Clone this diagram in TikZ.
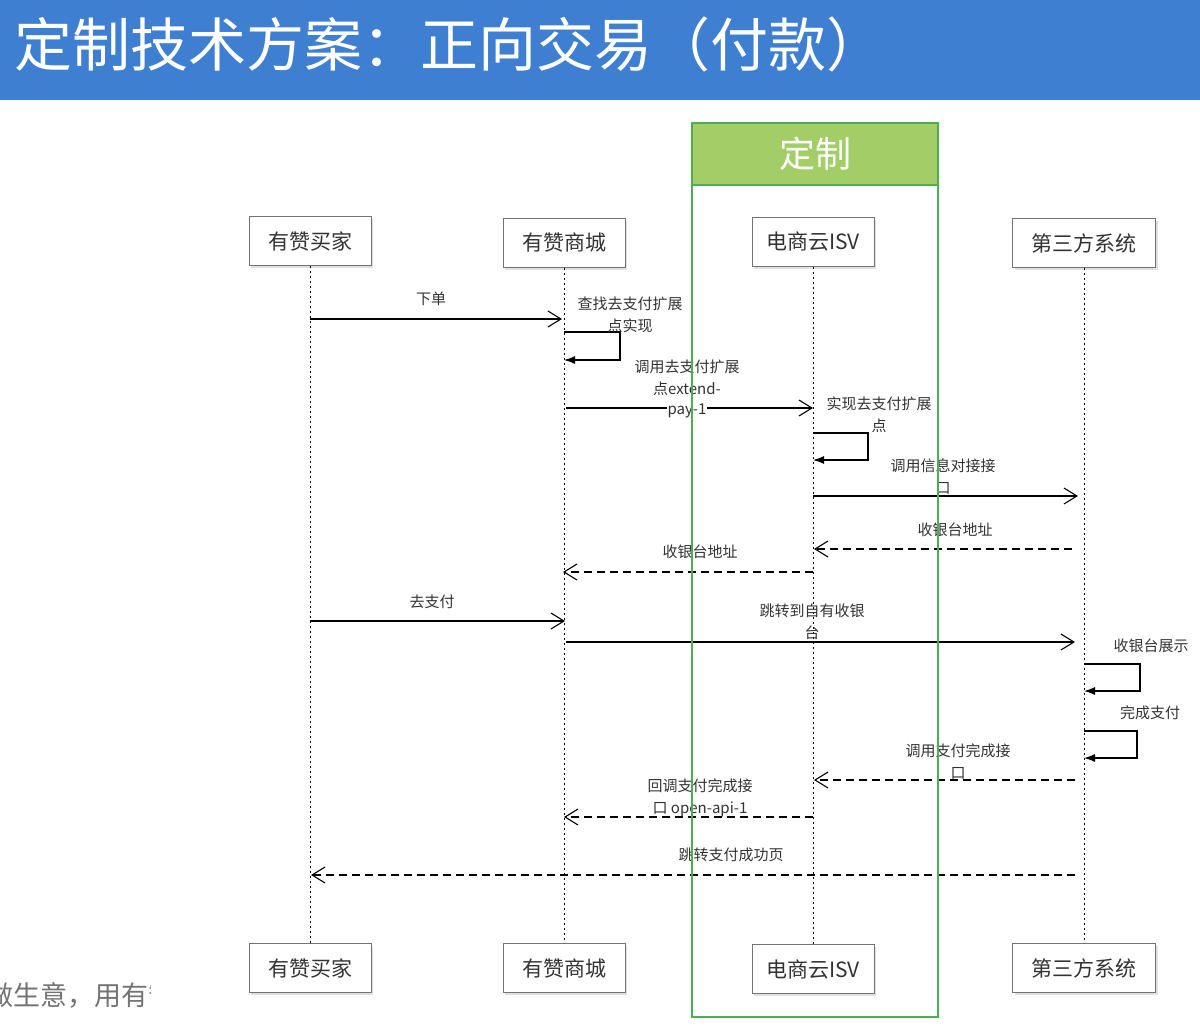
\documentclass[tikz,border=0pt]{standalone}
\usepackage{fontspec}
\setmainfont{Noto Sans CJK SC}
\usepackage{xcolor}
\usetikzlibrary{arrows.meta,shadows}

\definecolor{titleblue}{HTML}{3F7FD2}
\definecolor{framegreen}{HTML}{4CAF50}
\definecolor{headgreen}{HTML}{A3CD66}
\definecolor{inkgray}{HTML}{333333}

\tikzset{
  actor/.style={draw=black!55, fill=white, line width=1pt, minimum width=122pt,
    minimum height=49pt, inner sep=0pt, text=inkgray, font=\fontsize{21}{24}\selectfont,
    drop shadow={shadow xshift=2pt, shadow yshift=-2pt, fill=black!12, opacity=1}},
  lifeline/.style={line width=1pt, dash pattern=on 1.5pt off 3.5pt},
  msg/.style={line width=1.1pt, -{Straight Barb[length=13pt,width=16pt,line width=1.1pt]}},
  reply/.style={msg, dash pattern=on 8pt off 5pt},
  self/.style={line width=1.1pt, -{Latex[length=11pt,width=8pt]}},
  lbl/.style={text=inkgray, font=\fontsize{15}{22}\selectfont, align=center, inner sep=0pt},
  lblbg/.style={lbl, fill=white, inner sep=1pt}
}

\begin{document}
\begin{tikzpicture}[x=1pt, y=-1pt]
  \useasboundingbox (0,0) rectangle (1200,1034);

  % --- TITLE ---
  \fill[titleblue] (0,0) rectangle (1200,100);
  \node[anchor=west, text=white, inner sep=0pt, font=\fontsize{58}{62}\selectfont]
    (title) at (14,44) {定制技术方案：正向交易（付款）};

  % --- GREEN frame header ---
  \fill[headgreen] (692,123) rectangle (938,185);
  \node[text=white, font=\fontsize{36}{40}\selectfont] (custom) at (815,154) {定制};

  % --- cut-off slogan at the bottom left ---
  \begin{scope}
    \clip (0,960) rectangle (150,1034);
    \node[anchor=west, text=black!55, inner sep=0pt, font=\fontsize{27}{30}\selectfont]
      (slogan) at (-14,995) {做生意，用有赞};
  \end{scope}

  % --- ACTORS ---
  \node[actor] (buyerT)  at (310,241) {有赞买家};
  \node[actor] (shopT)   at (564,243) {有赞商城};
  \node[actor] (isvT)    at (813,242) {电商云ISV};
  \node[actor, minimum width=143pt] (thirdT) at (1084,243) {第三方系统};
  \node[actor] (buyerB)  at (310,968) {有赞买家};
  \node[actor] (shopB)   at (564,968) {有赞商城};
  \node[actor] (isvB)    at (813,969) {电商云ISV};
  \node[actor, minimum width=143pt] (thirdB) at (1084,968) {第三方系统};

  % --- LIFELINES ---
  \foreach \a in {buyer,shop,isv,third}
    \draw[lifeline] (\a T.south) -- (\a B.north);

  % --- anchor points on the lifelines ---
  \coordinate (b1) at (310,319);  \coordinate (s1) at (562,319);
  \coordinate (s2a) at (564,332); \coordinate (s2b) at (564,360);
  \coordinate (s3) at (566,408);  \coordinate (i3) at (813,408);
  \coordinate (i4a) at (813,433); \coordinate (i4b) at (813,460);
  \coordinate (i5) at (813,496);  \coordinate (t5) at (1078,496);
  \coordinate (t6) at (1072,549); \coordinate (i6) at (814,549);
  \coordinate (i7) at (813,572);  \coordinate (s7) at (563,572);
  \coordinate (b8) at (310,621);  \coordinate (s8) at (565,621);
  \coordinate (s9) at (566,642);  \coordinate (t9) at (1075,642);
  \coordinate (t10a) at (1084,664); \coordinate (t10b) at (1084,691);
  \coordinate (t11a) at (1084,731); \coordinate (t11b) at (1084,758);
  \coordinate (t12) at (1075,780); \coordinate (i12) at (814,780);
  \coordinate (i13) at (813,817); \coordinate (s13) at (564,817);
  \coordinate (t14) at (1075,875); \coordinate (b14) at (311,875);

  % --- MESSAGES ---
  \draw[msg] (b1) -- (s1);
  \node[lbl] (m1) at (431,299) {下单};

  \draw[self] (s2a) -- ++(56,0) |- (s2b);
  \node[lbl] (m2) at (630,315) {查找去支付扩展\\点实现};

  \draw[msg] (s3) -- (i3);
  \node[lbl] (m3) at (687,378) {调用去支付扩展\\点extend-};
  \node[lblbg] (m3b) at (687,411) {pay-1};

  \draw[self] (i4a) -- ++(55,0) |- (i4b);
  \node[lbl] (m4) at (879,415) {实现去支付扩展\\点};

  \draw[msg] (i5) -- (t5);
  \node[lbl] (m5) at (943,466) {调用信息对接接};
  \node[lblbg] (m5b) at (943,488) {口};

  \draw[reply] (t6) -- (i6);
  \node[lbl] (m6) at (955,530) {收银台地址};

  \draw[reply] (i7) -- (s7);
  \node[lbl] (m7) at (700,552) {收银台地址};

  \draw[msg] (b8) -- (s8);
  \node[lbl] (m8) at (432,602) {去支付};

  \draw[msg] (s9) -- (t9);
  \node[lbl] (m9) at (812,622) {跳转到自有收银\\台};

  \draw[self] (t10a) -- ++(56,0) |- (t10b);
  \node[lbl] (m10) at (1151,646) {收银台展示};

  \draw[self] (t11a) -- ++(53,0) |- (t11b);
  \node[lbl] (m11) at (1150,713) {完成支付};

  \draw[reply] (t12) -- (i12);
  \node[lbl] (m12) at (958,762) {调用支付完成接\\口};

  \draw[reply] (i13) -- (s13);
  \node[lbl] (m13) at (700,798) {回调支付完成接\\口 open-api-1};

  \draw[reply] (t14) -- (b14);
  \node[lbl] (m14) at (731,855) {跳转支付成功页};

  % --- GREEN frame outline on top ---
  \draw[framegreen, line width=2pt] (692,123) rectangle (938,1017);
  \draw[framegreen, line width=2pt] (692,185) -- (938,185);
\end{tikzpicture}
\end{document}
